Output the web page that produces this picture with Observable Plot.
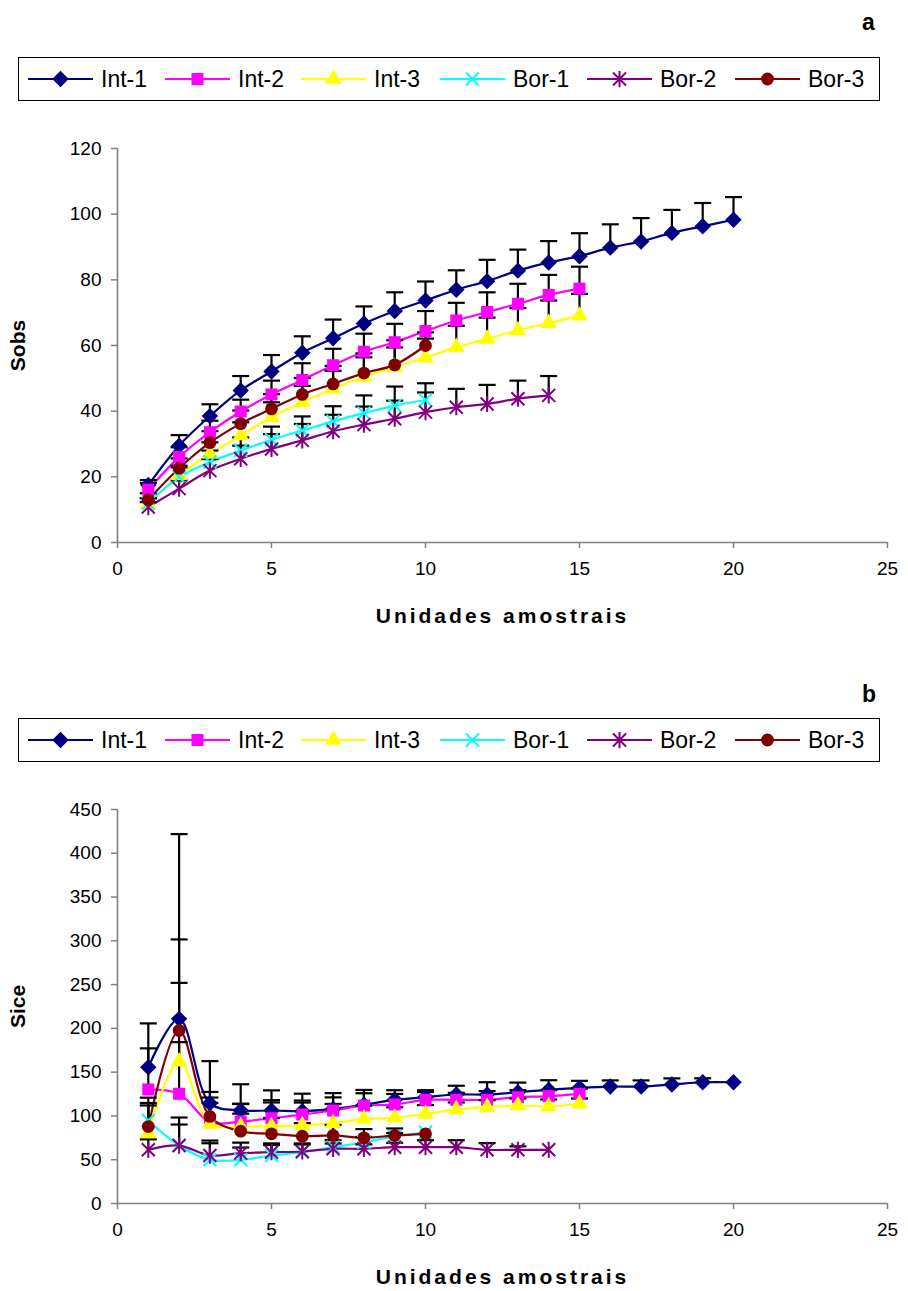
<!DOCTYPE html>
<html><head><meta charset="utf-8">
<script src="https://cdn.jsdelivr.net/npm/d3@7"></script>
<script src="https://cdn.jsdelivr.net/npm/@observablehq/plot@0.6"></script>
<style>
body{margin:0;background:#fff;font-family:"Liberation Sans",Arial,sans-serif;}
#root{position:relative;width:908px;height:1291px;overflow:hidden;background:#fff;}
.panel-label{position:absolute;font-weight:bold;font-size:23px;line-height:1;}
.legend{position:absolute;left:18px;width:862px;height:44px;border:1px solid #000;box-sizing:border-box;}
.legend .item{position:absolute;top:0;height:100%;display:flex;align-items:center;font-size:23px;white-space:nowrap;}
.legend .item svg{margin-right:8px;overflow:visible;}
.plotwrap{position:absolute;left:0;}
.plotwrap svg g[aria-label="x-axis label"] text{font-weight:bold;font-size:21px;letter-spacing:3px;}
.plotwrap svg g[aria-label="y-axis label"] text{font-weight:bold;font-size:21px;}
</style>
</head><body><div id="root"></div>
<script>
// ---------- data ----------
const seriesNames = ["Int-1", "Int-2", "Int-3", "Bor-1", "Bor-2", "Bor-3"];
const seriesColors = ["#000080", "#FF00FF", "#FFFF00", "#00FFFF", "#800080", "#800000"];
const units = [1, 2, 3, 4, 5, 6, 7, 8, 9, 10, 11, 12, 13, 14, 15, 16, 17, 18, 19, 20];
const xTicks = [0, 5, 10, 15, 20, 25];
const yTicksA = [0, 20, 40, 60, 80, 100, 120];
const yTicksB = [0, 50, 100, 150, 200, 250, 300, 350, 400, 450];

// Panel a: Sobs (mean) and SD (plus error bars)
const int1A = [17.5, 29.5, 38.5, 46.3, 52.1, 57.8, 62.2, 66.7, 70.5, 73.7, 77.0, 79.6, 82.8, 85.3, 87.2, 89.8, 91.7, 94.3, 96.3, 98.3];
const int1AErr = [1.5, 3.2, 3.6, 4.4, 5.0, 5.0, 5.7, 5.2, 5.7, 5.8, 5.9, 6.5, 6.4, 6.5, 7.0, 7.1, 7.1, 7.0, 7.1, 6.9];
const int2A = [16.1, 26.0, 33.6, 39.9, 45.1, 49.5, 54.0, 58.1, 61.0, 64.4, 67.6, 70.2, 72.7, 75.4, 77.3];
const int2AErr = [2.0, 3.0, 3.5, 3.6, 4.2, 5.1, 5.0, 5.5, 5.6, 6.1, 5.4, 6.0, 6.1, 6.1, 6.7];
const int3A = [11.5, 20.4, 27.0, 32.6, 38.2, 42.7, 46.8, 50.4, 53.4, 56.3, 59.5, 62.0, 64.6, 66.8, 69.1];
const int3AErr = [2.0, 3.0, 3.5, 4.0, 4.5, 5.0, 5.5, 6.0, 6.0, 5.8, 6.5, 6.5, 6.8, 6.9, 6.6];
const bor1A = [12.0, 19.9, 24.5, 28.0, 31.3, 34.1, 36.9, 39.4, 41.7, 43.4];
const bor1AErr = [1.5, 3.0, 3.5, 4.0, 4.0, 4.3, 4.6, 5.4, 5.8, 5.1];
const bor2A = [10.8, 16.4, 21.9, 25.5, 28.5, 31.1, 33.9, 35.9, 37.7, 39.7, 41.2, 42.2, 43.8, 44.8];
const bor2AErr = [1.5, 2.5, 3.5, 4.0, 4.5, 5.0, 5.0, 5.5, 5.5, 6.0, 5.6, 5.8, 5.5, 5.9];
const bor3A = [13.0, 22.6, 30.4, 36.2, 40.7, 45.1, 48.3, 51.6, 54.1, 60.0];
const bor3AErr = [2.0, 3.0, 3.5, 4.0, 4.5, 5.0, 5.5, 6.0, 7.5, 4.0];

// Panel b: Sice (mean) and SD
const int1B = [155.7, 210.9, 114.6, 106.2, 106.2, 105.4, 108.1, 112.7, 118.4, 121.4, 124.5, 124.5, 127.1, 129.8, 132.1, 133.6, 133.6, 135.9, 138.5, 138.5];
const int1BErr = [50, 211, 48, 30, 23, 20, 18, 17, 11, 8, 10, 14, 11, 11, 8, 7, 7, 7, 4.5, 0];
const int2B = [130.2, 125.3, 92.9, 93.6, 97.4, 101.6, 106.2, 111.9, 113.1, 118.4, 118.4, 118.4, 121.4, 122.6, 125.3];
const int2BErr = [47, 59, 22, 20, 18, 16, 15, 14, 12, 9, 8, 10, 8, 7, 6];
const int3B = [80, 162, 91, 88, 88, 89.3, 91.7, 96.7, 97.9, 102.4, 107.4, 110, 111.9, 110.8, 113.9];
const int3BErr = [32, 90, 30, 26, 30, 26, 22, 15, 12, 10, 8, 8, 8, 8, 6];
const bor1B = [94.8, 66.2, 49.9, 49.9, 54.8, 58.6, 64.3, 70.0, 76.5, 81.4];
const bor1BErr = [20, 32, 22, 14, 12, 10, 8, 6, 4, 0];
const bor2B = [61.3, 66.2, 54.8, 57.5, 58.6, 59.4, 62.5, 62.5, 64.3, 64.3, 64.3, 61.3, 61.3, 61.3];
const bor2BErr = [12, 24, 14, 12, 10, 8, 6, 5, 5, 8, 8, 7.6, 4, 0];
const bor3B = [87.9, 197.6, 99.4, 82.6, 79.6, 76.9, 77.7, 75.0, 77.7, 79.6];
const bor3BErr = [33, 104, 28, 20, 18, 15, 12, 10, 8, 0];

// ---------- symbols ----------
const timesSym = {draw(ctx) { const h = 6.5; ctx.moveTo(-h, -h); ctx.lineTo(h, h); ctx.moveTo(-h, h); ctx.lineTo(h, -h); }};
const starSym = {draw(ctx) { const h = 6.5; ctx.moveTo(-h, -h); ctx.lineTo(h, h); ctx.moveTo(-h, h); ctx.lineTo(h, -h); ctx.moveTo(0, -h * 1.25); ctx.lineTo(0, h * 1.25); }};
const capSym = {draw(ctx) { ctx.moveTo(-8.5, 0); ctx.lineTo(8.5, 0); }};
const markerSpecs = [
  {symbol: "diamond2", r: 7.4, filled: true},
  {symbol: "square", r: 6.8, filled: true},
  {symbol: "triangle", r: 6.2, filled: true},
  {symbol: timesSym, r: 5, filled: false},
  {symbol: starSym, r: 5, filled: false},
  {symbol: "circle", r: 6.4, filled: true}
];

function buildRows(valueLists, errLists) {
  const rows = [];
  valueLists.forEach((vals, si) => {
    vals.forEach((v, i) => rows.push({series: seriesNames[si], si, x: units[i], y: v, e: errLists[si][i]}));
  });
  return rows;
}
const rowsA = buildRows([int1A, int2A, int3A, bor1A, bor2A, bor3A], [int1AErr, int2AErr, int3AErr, bor1AErr, bor2AErr, bor3AErr]);
const rowsB = buildRows([int1B, int2B, int3B, bor1B, bor2B, bor3B], [int1BErr, int2BErr, int3BErr, bor1BErr, bor2BErr, bor3BErr]);

function makePanel(rows, yMax, yTicks, yLabel, height, mt, mb) {
  const marks = [
    Plot.ruleX([0], {stroke: "#808080", strokeWidth: 1.6}),
    Plot.ruleY([0], {stroke: "#808080", strokeWidth: 1.6}),
    Plot.axisX({ticks: xTicks, tickSize: 6, tickPadding: 13, stroke: "#808080", strokeWidth: 1.5, label: "Unidades amostrais", labelAnchor: "center", labelArrow: "none", labelOffset: 80}),
    Plot.axisY({ticks: yTicks, tickSize: 6, tickPadding: 10, stroke: "#808080", strokeWidth: 1.5, label: yLabel, labelAnchor: "center", labelArrow: "none", labelOffset: 107})
  ];
  seriesNames.forEach((name, si) => {
    const d = rows.filter(r => r.si === si);
    marks.push(Plot.line(d, {x: "x", y: "y", stroke: seriesColors[si], strokeWidth: 2.2, curve: "catmull-rom"}));
  });
  const withErr = rows.filter(r => r.e > 0);
  marks.push(Plot.ruleX(withErr, {x: "x", y1: "y", y2: r => r.y + r.e, stroke: "#000", strokeWidth: 2.2}));
  marks.push(Plot.dot(withErr, {x: "x", y: r => r.y + r.e, symbol: capSym, r: 5, fill: "none", stroke: "#000", strokeWidth: 2.2}));
  seriesNames.forEach((name, si) => {
    const d = rows.filter(r => r.si === si);
    const m = markerSpecs[si];
    marks.push(Plot.dot(d, m.filled
      ? {x: "x", y: "y", symbol: m.symbol, r: m.r, fill: seriesColors[si], stroke: "none"}
      : {x: "x", y: "y", symbol: m.symbol, r: m.r, fill: "none", stroke: seriesColors[si], strokeWidth: 2}));
  });
  return Plot.plot({
    width: 908, height, marginLeft: 117, marginRight: 21, marginTop: mt, marginBottom: mb,
    style: {fontSize: "19px", fontFamily: "'Liberation Sans', Arial, sans-serif", color: "#000", background: "#fff"},
    x: {domain: [0, 25]},
    y: {domain: [0, yMax]},
    marks
  });
}

function makeLegend(top) {
  const box = document.createElement("div");
  box.className = "legend";
  box.style.top = top + "px";
  const lefts = [9, 146, 282, 421, 568, 716];
  seriesNames.forEach((name, si) => {
    const item = document.createElement("div");
    item.className = "item";
    item.style.left = lefts[si] + "px";
    const svg = d3.create("svg").attr("width", 65).attr("height", 20);
    svg.append("line").attr("x1", 0).attr("x2", 65).attr("y1", 10).attr("y2", 10).attr("stroke", seriesColors[si]).attr("stroke-width", 2.2);
    const m = markerSpecs[si];
    const symType = m.symbol === "diamond2" ? d3.symbolDiamond2 : m.symbol === "square" ? d3.symbolSquare : m.symbol === "triangle" ? d3.symbolTriangle : m.symbol === "circle" ? d3.symbolCircle : m.symbol;
    const path = svg.append("path").attr("transform", "translate(32.5,10)").attr("d", d3.symbol(symType, Math.PI * m.r * m.r)());
    if (m.filled) path.attr("fill", seriesColors[si]);
    else path.attr("fill", "none").attr("stroke", seriesColors[si]).attr("stroke-width", 2);
    item.appendChild(svg.node());
    const t = document.createElement("span");
    t.textContent = name;
    item.appendChild(t);
    box.appendChild(item);
  });
  return box;
}

const root = document.getElementById("root");
function addLabel(text, top) {
  const l = document.createElement("div");
  l.className = "panel-label";
  l.textContent = text;
  l.style.left = "862px";
  l.style.top = top + "px";
  root.appendChild(l);
}
addLabel("a", 11);
root.appendChild(makeLegend(57));
const wa = document.createElement("div");
wa.className = "plotwrap"; wa.style.top = "110px";
wa.appendChild(makePanel(rowsA, 120, yTicksA, "Sobs", 522, 38, 90));
root.appendChild(wa);

addLabel("b", 683);
root.appendChild(makeLegend(718));
const wb = document.createElement("div");
wb.className = "plotwrap"; wb.style.top = "770px";
wb.appendChild(makePanel(rowsB, 450, yTicksB, "Sice", 521, 39, 88));
root.appendChild(wb);
</script></body></html>
